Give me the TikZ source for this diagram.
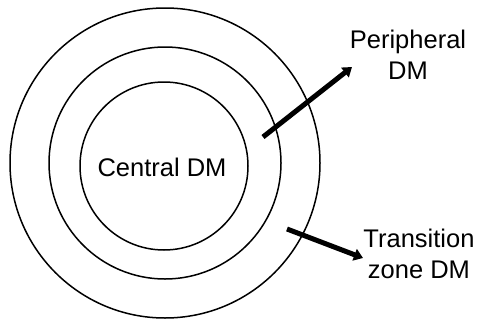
\documentclass[tikz,border=0pt]{standalone}
\usepackage{fontspec}
\setmainfont{Liberation Sans}
\usetikzlibrary{arrows.meta}
\begin{document}
\begin{tikzpicture}[x=1pt,y=-1pt,
  ring/.style={draw=black,line width=1.5pt},
  pointer/.style={line width=5pt,-{Triangle[length=9pt,width=12pt]}},
  lbl/.style={font=\fontsize{25.5}{30.5}\selectfont,align=center,inner sep=0pt,anchor=base}]
\useasboundingbox (0,0) rectangle (479,324);
\node[ring,circle,minimum size=310pt,inner sep=0pt] (outer) at (165,163) {};
\node[ring,circle,minimum size=232pt,inner sep=0pt] (middle) at (165,163) {};
\node[ring,circle,minimum size=168pt,inner sep=0pt] (inner) at (164,166) {};
\node[lbl] (central) at (162,176) {Central DM};
\node[lbl] (periph) at (408,79) {Peripheral\\DM};
\node[lbl] (trans) at (419,278) {Transition\\zone DM};
\coordinate (ptail) at (263,137);
\coordinate (phead) at (352,67);
\coordinate (ttail) at (287,229);
\coordinate (thead) at (363,258);
\draw[pointer] (ptail) -- (phead);
\draw[pointer] (ttail) -- (thead);
\end{tikzpicture}
\end{document}
